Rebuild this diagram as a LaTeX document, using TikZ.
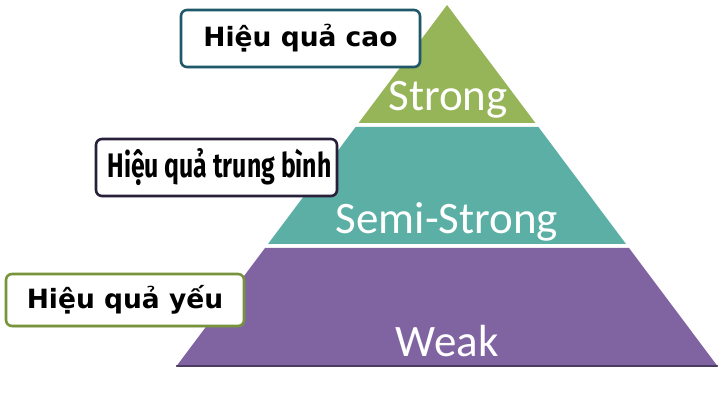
\documentclass[tikz,border=0pt]{standalone}
\usepackage{fontspec}
\usetikzlibrary{shadows}
\newfontfamily\layerfont{Carlito}
\newfontfamily\boxfont{DejaVu Sans}
\newfontfamily\narrowfont{Fira Sans}
\definecolor{strongcol}{RGB}{150,181,88}
\definecolor{semicol}{RGB}{92,175,165}
\definecolor{weakcol}{RGB}{128,100,162}
\definecolor{topframe}{RGB}{31,88,104}
\definecolor{midframe}{RGB}{40,32,58}
\definecolor{lowframe}{RGB}{119,147,60}
\tikzset{
  layertext/.style={text=white, anchor=base, inner sep=0pt,
    font=\layerfont\fontsize{45}{45}\selectfont},
  tagbox/.style={draw, line width=2.6pt, rounded corners=6pt, fill=white,
    inner sep=0pt, drop shadow={opacity=0.25,shadow xshift=1.5pt,shadow yshift=-1.5pt}},
  tagtext/.style={font=\boxfont\bfseries\fontsize{26.5}{26.5}\selectfont}
}
\begin{document}
\begin{tikzpicture}[line cap=round,line join=round,x=1pt,y=-1pt]
		\useasboundingbox (0,0) rectangle (720,403);
		% pyramid layers
		\fill[strongcol] (447,5)-- (535.4,123)-- (358.6,123)-- cycle;
		\fill[semicol] (355.6,127)-- (538.4,127)-- (626,244)-- (268,244)-- cycle;
		\fill[weakcol] (265,248)-- (629,248)-- (717.4,366)-- (176.6,366)-- cycle;
		\draw[weakcol!60!black,line width=1.2pt] (176.6,366)-- (717.4,366);
		% layer labels
		\node[layertext] (strong) at (448,111) {Strong};
		\node[layertext] (semi) at (447,234) {Semi-Strong};
		\node[layertext] (weak) at (447,356) {Weak};
		% tags
		\node[tagbox,draw=topframe,minimum width=239pt,minimum height=57pt] (high) at (300.5,38.5) {};
		\node[tagtext] at (high) {Hiệu quả cao};
		\node[tagbox,draw=midframe,minimum width=241pt,minimum height=57pt] (mid) at (216.5,167.5) {};
		\node[font=\narrowfont\bfseries\fontsize{34}{34}\selectfont,xshift=3pt] at (mid) {\scalebox{0.73}[1]{Hiệu quả trung bình}};
		\node[tagbox,draw=lowframe,minimum width=238pt,minimum height=52pt] (low) at (125,300) {};
		\node[tagtext] at (low) {Hiệu quả yếu};
\end{tikzpicture}
\end{document}
